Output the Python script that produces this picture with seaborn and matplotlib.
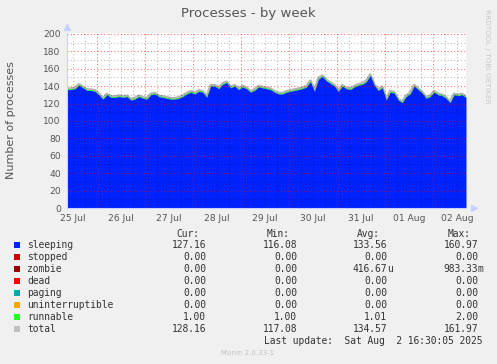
import matplotlib
matplotlib.use("Agg")
import matplotlib.pyplot as plt
import matplotlib.dates as mdates
import seaborn as sns
import pandas as pd
import numpy as np

# ---------------- data ----------------
start_time = "2025-07-25 09:00"
end_time = "2025-08-02 16:30"

sleeping = [136, 136, 137, 141, 138, 135, 135, 134, 130, 125,
            130, 127, 127, 128, 127, 128, 124, 125, 128, 126,
            125, 130, 131, 128, 127, 126, 125, 125, 126, 128,
            131, 133, 131, 134, 133, 127, 140, 140, 137, 142,
            144, 138, 140, 136, 139, 137, 133, 135, 139, 138,
            137, 136, 133, 131, 131, 133, 134, 135, 136, 137,
            139, 145, 134, 148, 151, 146, 143, 140, 134, 140,
            137, 136, 139, 141, 142, 145, 152, 141, 135, 138,
            124, 133, 132, 124, 121, 128, 131, 140, 136, 132,
            126, 128, 133, 130, 129, 126, 121, 130, 129, 130,
            127]
runnable = [1.0, 1.0, 1.0, 1.0, 1.0, 1.0, 1.0, 1.0, 1.0, 1.0,
            1.0, 1.0, 1.0, 1.0, 1.0, 1.0, 1.0, 1.0, 1.0, 1.0,
            1.0, 1.0, 1.0, 1.0, 1.0, 1.0, 1.0, 1.0, 1.0, 1.0,
            1.0, 1.0, 1.0, 1.0, 1.0, 1.0, 1.0, 1.0, 1.0, 1.0,
            1.0, 1.0, 1.0, 1.0, 1.0, 1.0, 1.0, 1.0, 1.0, 1.0,
            1.0, 1.0, 1.0, 1.0, 1.0, 1.0, 1.0, 1.0, 1.0, 1.0,
            1.0, 1.1, 1.0, 1.0, 1.0, 1.0, 1.0, 1.0, 1.0, 1.0,
            1.0, 1.0, 1.0, 1.0, 1.0, 1.0, 1.1, 1.0, 1.0, 1.0,
            1.0, 1.0, 1.0, 1.0, 1.0, 1.0, 1.0, 1.0, 1.0, 1.0,
            1.0, 1.0, 1.0, 1.0, 1.0, 1.0, 1.0, 1.0, 1.0, 1.0,
            1.0]

legend_names = ["sleeping", "stopped", "zombie", "dead", "paging",
                "uninterruptible", "runnable", "total"]
legend_colors = ["#0022ff", "#cc0000", "#990000", "#ff0000", "#00aaaa",
                 "#ffa500", "#22ff22", "#c0c0c0"]
cur_vals = ["127.16", "0.00", "0.00", "0.00", "0.00", "0.00", "1.00", "128.16"]
min_vals = ["116.08", "0.00", "0.00", "0.00", "0.00", "0.00", "1.00", "117.08"]
avg_vals = ["133.56", "0.00", "416.67u", "0.00", "0.00", "0.00", "1.01", "134.57"]
max_vals = ["160.97", "0.00", "983.33m", "0.00", "0.00", "0.00", "2.00", "161.97"]

title = "Processes - by week"
ylabel = "Number of processes"
last_update = "Last update:  Sat Aug  2 16:30:05 2025"

# ---------------- figure ----------------
W, H = 497, 364
sns.set_theme(style="white")
plt.rcParams["font.family"] = ["DejaVu Sans"]

fig = plt.figure(figsize=(W / 100, H / 100), dpi=100, facecolor="#f0f0f0")
ax = fig.add_axes([67 / W, 1 - 208 / H, 399 / W, 175 / H])
ax.set_facecolor("white")


def fx(x):
    return x / W


def fy(y):
    return 1 - y / H


times = pd.date_range(start_time, end_time, periods=len(sleeping))
sl = np.array(sleeping, dtype=float)
rn = np.array(runnable, dtype=float)
total = sl + rn
df = pd.DataFrame({"time": times, "total": total})

sns.lineplot(data=df, x="time", y="total", ax=ax, color="#b4b4b4",
             lw=2.0, zorder=1.5)
ax.fill_between(times, sl, sl + rn, color="#22ff22", lw=0, zorder=1.6)
ax.fill_between(times, 0, sl, color="#0022ff", lw=0, zorder=1.7)

t0, t1 = pd.Timestamp(start_time), pd.Timestamp(end_time)
ax.set_xlim(t0, t1)
ax.set_ylim(0, 201)

# ticks (labels only)
ax.xaxis.set_major_locator(mdates.HourLocator(byhour=[12]))
ax.xaxis.set_major_formatter(mdates.DateFormatter("%d %b"))
ax.yaxis.set_major_locator(matplotlib.ticker.MultipleLocator(20))
ax.grid(False)

dots = (0, (1, 2))
# minor gray grid
for t in pd.date_range("2025-07-25 12:00", "2025-08-02 12:00", freq="6h"):
    if t.hour != 0:
        ax.axvline(t, color="black", alpha=0.25, linestyle=dots, lw=0.8,
                   zorder=3)
for v in range(10, 201, 20):
    ax.axhline(v, color="black", alpha=0.25, linestyle=dots, lw=0.8,
               zorder=3)
# major red grid
for d in pd.date_range("2025-07-26", "2025-08-02", freq="D"):
    ax.axvline(d, color="#ff0000", alpha=0.55, linestyle=dots, lw=0.8,
               zorder=3)
for v in range(20, 201, 20):
    ax.axhline(v, color="#ff0000", alpha=0.55, linestyle=dots, lw=0.8,
               zorder=3)

ax.tick_params(axis="both", which="both", length=0)
ax.tick_params(axis="x", which="major", pad=4.5, labelsize=6.6,
               labelcolor="#555555")
ax.tick_params(axis="y", which="major", pad=4.5, labelsize=6.6,
               labelcolor="#555555")
ax.set_xlabel("")
ax.set_ylabel("")

for s in ["top", "right"]:
    ax.spines[s].set_visible(False)
for s in ["left", "bottom"]:
    ax.spines[s].set_color("#c8d0ff")
    ax.spines[s].set_linewidth(0.8)
    ax.spines[s].set_zorder(4)

# axis arrows
ax.plot([0], [1.035], marker="^", color="#c8d0ff", ms=4,
        transform=ax.transAxes, clip_on=False)
ax.plot([1.02], [0], marker=">", color="#c8d0ff", ms=4,
        transform=ax.transAxes, clip_on=False)

# titles
fig.text(fx(248), fy(13), title, ha="center", va="center",
         fontsize=9.5, color="#555555")
fig.text(fx(11), fy(120), ylabel, ha="center", va="center",
         rotation=90, fontsize=8.0, color="#555555")
fig.text(fx(487), fy(56), "RRDTOOL / TOBI OETIKER", ha="center",
         va="center", rotation=270, fontsize=5.3, color="#c8c8c8")

# legend
mono = "DejaVu Sans Mono"
fs = 6.9
tc = "#333333"
col_right = [206, 297, 387, 478]
headers = ["Cur:", "Min:", "Avg:", "Max:"]
for xr, h in zip(col_right, headers):
    fig.text(fx(xr - 7), fy(234), h, ha="right", va="center",
             family=mono, fontsize=fs, color=tc)

row_y = [245, 257, 269, 281, 293, 305, 317, 329]
for i, (name, c) in enumerate(zip(legend_names, legend_colors)):
    y = row_y[i]
    fig.patches.append(matplotlib.patches.Rectangle(
        (fx(14), fy(y + 3)), 6 / W, 6 / H, transform=fig.transFigure,
        color=c, lw=0))
    fig.text(fx(27), fy(y), name, ha="left", va="center",
             family=mono, fontsize=fs, color=tc)
    for xr, vals in zip(col_right, [cur_vals, min_vals, avg_vals, max_vals]):
        v = vals[i]
        num, suf = (v[:-1], v[-1]) if v[-1].isalpha() else (v, "")
        fig.text(fx(xr), fy(y), num, ha="right", va="center",
                 family=mono, fontsize=fs, color=tc)
        if suf:
            fig.text(fx(xr), fy(y), suf, ha="left", va="center",
                     family=mono, fontsize=fs, color=tc)

fig.text(fx(483), fy(341), last_update, ha="right", va="center",
         family=mono, fontsize=fs, color=tc)
fig.text(fx(248), fy(353), "Munin 2.0.33-1", ha="center", va="center",
         fontsize=5, color="#c0c0c0")

fig.savefig("out.png", dpi=100, facecolor=fig.get_facecolor())
